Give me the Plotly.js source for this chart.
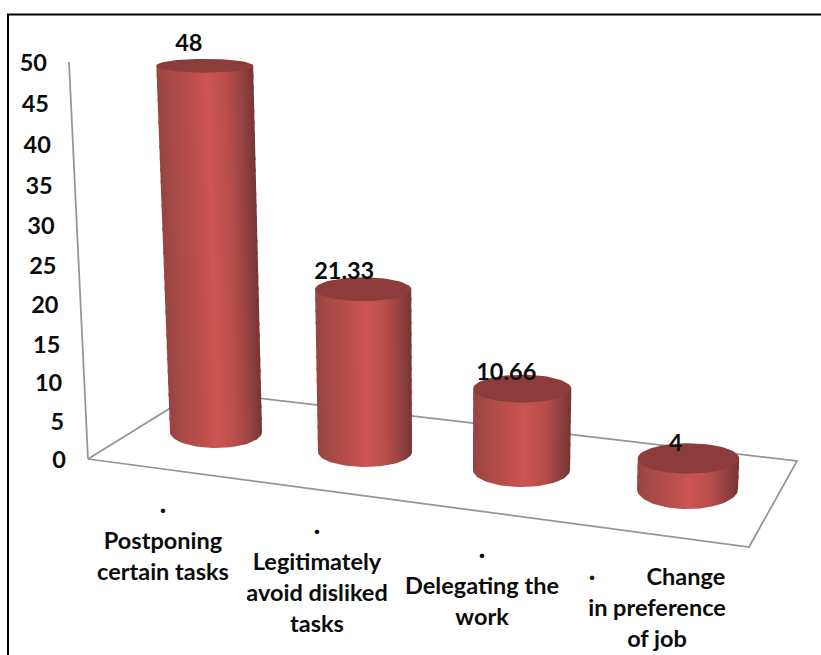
<!DOCTYPE html>
<html>
<head>
<meta charset="utf-8">
<script src="https://cdn.plot.ly/plotly-3.0.1.min.js"></script>
<style>html,body{margin:0;padding:0;background:#fff}#chart{width:821px;height:655px}</style>
</head>
<body>
<div id="chart"></div>
<script>
// Chart data
const values = [48, 21.33, 10.66, 4];
const valueLabels = ["48", "21.33", "10.66", "4"];
const axisTicks = [0, 5, 10, 15, 20, 25, 30, 35, 40, 45, 50];
const categoryLines = [
  ["·", "Postponing", "certain tasks"],
  ["·", "Legitimately", "avoid disliked", "tasks"],
  ["·", "Delegating the", "work"],
  ["·\u00a0\u00a0\u00a0\u00a0\u00a0\u00a0\u00a0\u00a0\u00a0Change", "in preference", "of job"]
];

// Scene geometry: the 3D look is a hand-built projection onto a pixel-sized plot
const baseX = [216, 365, 521.5, 687.5];
const baseY = [432, 452, 470, 489];
const baseRx = [46, 47, 48.5, 50.5];
const baseRy = [16, 15, 17, 20];
const labelDx = [-16, -19, -16, -13];
const labelX = [163, 317, 482, 657];
const labelTop = [509, 530, 554, 576];
const labelStep = 31;
const pxPerUnit = 7.63;
const textDrop = 3;

const wallBottom = {x: 88, y: 459};
const wallTop = {x: 69, y: 62};
const floorX = [88, 749, 797, 198, 88];
const floorY = [459, 547, 461, 391, 459];

const inkColor = "#0c0c0c";
const gridColor = "#959595";
const capColor = "#8b3c3b";
const sideScale = [
  [0, "#964442"], [0.12, "#a64947"], [0.35, "#bb4e4b"], [0.52, "#cb5552"],
  [0.72, "#b94e4b"], [0.88, "#934240"], [1, "#763533"]
];
const textFont = {family: "Lato, 'Open Sans', sans-serif", size: 23.5, color: inkColor, weight: 700};

// Project a value on a given category to its cylinder cross-section
function section(i, v) {
  const lean = (baseX[i] - 450) / 1000;
  return {
    cx: baseX[i] + lean * v,
    cy: baseY[i] - pxPerUnit * v,
    rx: baseRx[i] + 0.05 * v,
    ry: 16 - 0.19 * v
  };
}

// Position of a tick along the slightly foreshortened value axis
function axisPoint(v) {
  const rise = 7.588 * v / (1 - 0.000887 * v);
  const t = v / 50;
  return {x: wallBottom.x + (wallTop.x - wallBottom.x) * t, y: wallBottom.y - rise};
}

function ellipse(s, from, to, n) {
  const xs = [], ys = [];
  for (let k = 0; k <= n; k++) {
    const a = from + (to - from) * k / n;
    xs.push(s.cx + s.rx * Math.cos(a));
    ys.push(s.cy + s.ry * Math.sin(a));
  }
  return {xs, ys};
}

const traces = [];

// Floor outline and value-axis line
traces.push({x: floorX, y: floorY, mode: "lines", line: {color: gridColor, width: 1.75}});
traces.push({x: [wallBottom.x, wallTop.x], y: [wallBottom.y, wallTop.y], mode: "lines",
             line: {color: gridColor, width: 1.75}});

// Cylinders: the side is stacked from short bands so the highlight follows the lean
values.forEach((v, i) => {
  const top = section(i, v);
  const bands = Math.max(1, Math.ceil(pxPerUnit * v / 12));
  for (let b = 0; b < bands; b++) {
    const lo = section(i, v * b / bands);
    const hi = section(i, Math.min(v, v * (b + 1.3) / bands));
    let xs = [hi.cx - hi.rx, hi.cx + hi.rx, lo.cx + lo.rx];
    let ys = [hi.cy, hi.cy, lo.cy];
    if (b === 0) {
      const arc = ellipse({cx: lo.cx, cy: lo.cy, rx: lo.rx, ry: baseRy[i]}, 0, Math.PI, 40);
      xs = xs.concat(arc.xs);
      ys = ys.concat(arc.ys);
    } else {
      xs.push(lo.cx - lo.rx);
      ys.push(lo.cy);
    }
    xs.push(xs[0]);
    ys.push(ys[0]);
    traces.push({
      x: xs, y: ys, mode: "lines", line: {width: 0}, fill: "toself",
      fillgradient: {type: "horizontal", colorscale: sideScale,
                     start: lo.cx - lo.rx, stop: lo.cx + lo.rx}
    });
  }
  const cap = ellipse(top, 0, 2 * Math.PI, 72);
  traces.push({x: cap.xs, y: cap.ys, mode: "lines", line: {width: 0},
               fill: "toself", fillcolor: capColor});
});

// Value-axis tick labels
const tickPoints = axisTicks.map(axisPoint);
traces.push({
  x: tickPoints.map(p => p.x - 22), y: tickPoints.map(p => p.y + textDrop),
  text: axisTicks.map(String), mode: "text", textposition: "middle left", textfont: textFont
});

// Data labels above each cylinder
traces.push({
  x: values.map((v, i) => section(i, v).cx + labelDx[i]),
  y: values.map((v, i) => section(i, v).cy - 16 - 0.15 * v + textDrop),
  text: valueLabels, mode: "text", textposition: "middle center", textfont: textFont
});

// Category labels, one text point per line for the wide leading
const lineX = [], lineY = [], lineText = [];
categoryLines.forEach((lines, i) => lines.forEach((t, k) => {
  lineX.push(labelX[i]);
  lineY.push(labelTop[i] + labelStep * k + textDrop);
  lineText.push(t);
}));
traces.push({x: lineX, y: lineY, text: lineText, mode: "text",
             textposition: "middle center", textfont: textFont});

// Outer frame: top and left rules only
traces.push({x: [8, 8, 821], y: [655, 14.5, 14.5], mode: "lines",
             line: {color: "#000000", width: 2}});

const layout = {
  width: 821, height: 655,
  margin: {l: 0, r: 0, t: 0, b: 0},
  paper_bgcolor: "#ffffff", plot_bgcolor: "#ffffff",
  showlegend: false, hovermode: false,
  xaxis: {range: [0, 821], visible: false, fixedrange: true},
  yaxis: {range: [655, 0], visible: false, fixedrange: true}
};

Plotly.newPlot("chart", traces.map(t => Object.assign({cliponaxis: false}, t)), layout,
               {displayModeBar: false, staticPlot: true});
</script>
</body>
</html>
